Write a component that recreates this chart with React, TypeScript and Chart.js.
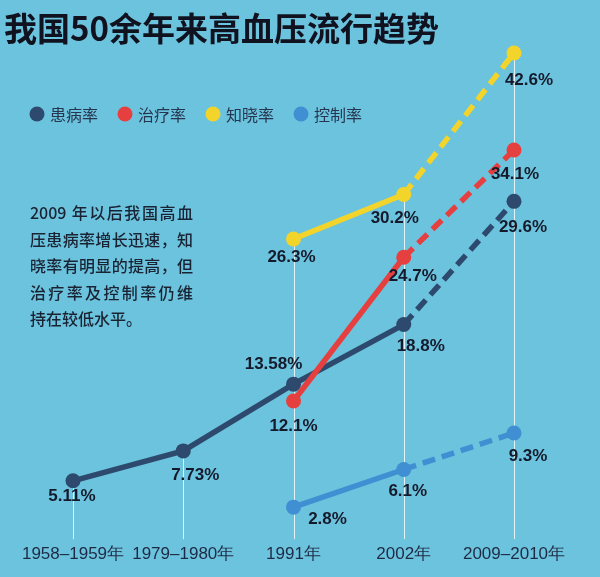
import React, { useEffect, useRef } from "react";
import { Chart, registerables } from "chart.js";

Chart.register(...registerables);

// ---- data ----
const categories = ["1958–1959年", "1979–1980年", "1991年", "2002年", "2009–2010年"];
const seriesNames = ["患病率", "治疗率", "知晓率", "控制率"];
const prevalence = [5.11, 7.73, 13.58, 18.8, 29.6];
const treatment = [null, null, 12.1, 24.7, 34.1];
const awareness = [null, null, 26.3, 30.2, 42.6];
const control = [null, null, 2.8, 6.1, 9.3];
const titleText = "我国50余年来高血压流行趋势";
const noteLines = [
  "2009 年以后我国高血",
  "压患病率增长迅速，知",
  "晓率有明显的提高，但",
  "治疗率及控制率仍维",
  "持在较低水平。",
];

// ---- styles ----
const BG = "#6cc3dd";
const COLORS = ["#2d4a6e", "#e5403f", "#f3d42a", "#3f8fd2"];
const TEXT_DARK = "#141a2b";
// label offsets (dx, dy) relative to each point, per series
const LABEL_OFFSETS = [
  [[-1, 16], [12, 24], [-20, -20], [17, 22], [9, 26]],
  [null, null, [0, 25], [9, 19], [1, 24]],
  [null, null, [-2, 18], [-9, 24], [15, 27]],
  [null, null, [34, 12], [4, 22], [14, 23]],
];

const decorPlugin = {
  id: "decor",
  beforeDraw(chart: any) {
    const { ctx, width, height } = chart;
    ctx.save();
    ctx.fillStyle = BG;
    ctx.fillRect(0, 0, width, height);
    ctx.restore();
  },
  beforeDatasetsDraw(chart: any) {
    const { ctx, chartArea } = chart;
    const yScale = chart.scales.y;
    const xScale = chart.scales.x;
    ctx.save();
    ctx.strokeStyle = "rgba(255,255,255,0.8)";
    ctx.lineWidth = 1;
    categories.forEach((_, i) => {
      let top = Infinity;
      chart.data.datasets.forEach((ds: any) => {
        const v = ds.data[i];
        if (v !== null && v !== undefined) top = Math.min(top, yScale.getPixelForValue(v));
      });
      if (!isFinite(top)) return;
      const x = Math.round(xScale.getPixelForValue(i)) + 0.5;
      ctx.beginPath();
      ctx.moveTo(x, top);
      ctx.lineTo(x, chartArea.bottom);
      ctx.stroke();
    });
    ctx.restore();
  },
  afterDatasetsDraw(chart: any) {
    const { ctx } = chart;
    ctx.save();
    ctx.font = 'bold 17px "Liberation Sans", Arial, sans-serif';
    ctx.fillStyle = TEXT_DARK;
    ctx.textAlign = "center";
    ctx.textBaseline = "middle";
    chart.data.datasets.forEach((ds: any, di: number) => {
      const meta = chart.getDatasetMeta(di);
      const si = ds.seriesIndex;
      meta.data.forEach((pt: any, i: number) => {
        const v = ds.data[i];
        if (v === null || v === undefined) return;
        const off = LABEL_OFFSETS[si][i] || [0, 20];
        ctx.fillText(String(v) + "%", pt.x + off[0], pt.y + off[1]);
      });
    });
    ctx.restore();
  },
  afterDraw(chart: any) {
    const { ctx } = chart;
    ctx.save();
    // title
    ctx.fillStyle = "#10131f";
    ctx.font = 'bold 33px "Noto Sans CJK SC", sans-serif';
    ctx.textAlign = "left";
    ctx.textBaseline = "middle";
    ctx.fillText(titleText, 4, 28);

    // legend
    ctx.font = '16px "Noto Sans CJK SC", sans-serif';
    let lx = 37;
    seriesNames.forEach((name, i) => {
      ctx.fillStyle = COLORS[i];
      ctx.beginPath();
      ctx.arc(lx, 114, 7.5, 0, Math.PI * 2);
      ctx.fill();
      ctx.fillStyle = "#263650";
      ctx.fillText(name, lx + 13, 115);
      lx += 88;
    });

    // note, justified (ASCII runs kept together)
    ctx.font = '500 16px "Noto Sans CJK SC", sans-serif';
    ctx.fillStyle = "#1a2333";
    const W = 163;
    noteLines.forEach((line, li) => {
      const y = 213 + li * 26.6;
      if (li === noteLines.length - 1) {
        ctx.fillText(line, 30, y);
        return;
      }
      const tokens = line.match(/[0-9A-Za-z]+ ?|./gu) || [];
      const widths = tokens.map((c) => ctx.measureText(c).width);
      const total = widths.reduce((a, b) => a + b, 0);
      const extra = tokens.length > 1 ? Math.max(0, (W - total) / (tokens.length - 1)) : 0;
      let x = 30;
      tokens.forEach((c, ci) => {
        ctx.fillText(c, x, y);
        x += widths[ci] + extra;
      });
    });
    ctx.restore();
  },
};

export default function App() {
  const ref = useRef<HTMLCanvasElement | null>(null);
  useEffect(() => {
    document.body.style.margin = "0";
    const canvas = ref.current!;
    const dashed = (ctx: any) => (ctx.p0DataIndex === 3 ? [13, 7] : undefined);
    const mk = (si: number, data: (number | null)[], order: number) => ({
      label: seriesNames[si],
      seriesIndex: si,
      data,
      borderColor: COLORS[si],
      backgroundColor: COLORS[si],
      pointBackgroundColor: COLORS[si],
      pointBorderWidth: 0,
      pointRadius: 7.5,
      borderWidth: 5.5,
      borderCapStyle: "butt",
      tension: 0,
      clip: false,
      order,
      segment: { borderDash: dashed },
    });
    const chart = new Chart(canvas, {
      type: "line",
      data: {
        labels: categories,
        datasets: [
          mk(0, prevalence, 3),
          mk(3, control, 2),
          mk(1, treatment, 1),
          mk(2, awareness, 0),
        ] as any,
      },
      options: {
        animation: false,
        responsive: false,
        devicePixelRatio: 1,
        layout: { padding: { left: 73, right: 86, top: 37, bottom: 7.5 } },
        plugins: {
          legend: { display: false },
          tooltip: { enabled: false },
          title: { display: false },
        },
        scales: {
          x: {
            type: "category",
            offset: false,
            grid: { display: false, drawTicks: false },
            border: { display: false },
            ticks: {
              font: { size: 17, family: '"Liberation Sans", Arial, sans-serif' },
              color: "#1e2a44",
              padding: 5,
              maxRotation: 0,
              autoSkip: false,
            },
          },
          y: { display: false, min: 0, max: 44 },
        },
      },
      plugins: [decorPlugin],
    });
    return () => chart.destroy();
  }, []);
  return (
    <div style={{ position: "absolute", left: 0, top: 0, width: 600, height: 577 }}>
      <canvas ref={ref} width={600} height={577} style={{ display: "block" }} />
    </div>
  );
}
